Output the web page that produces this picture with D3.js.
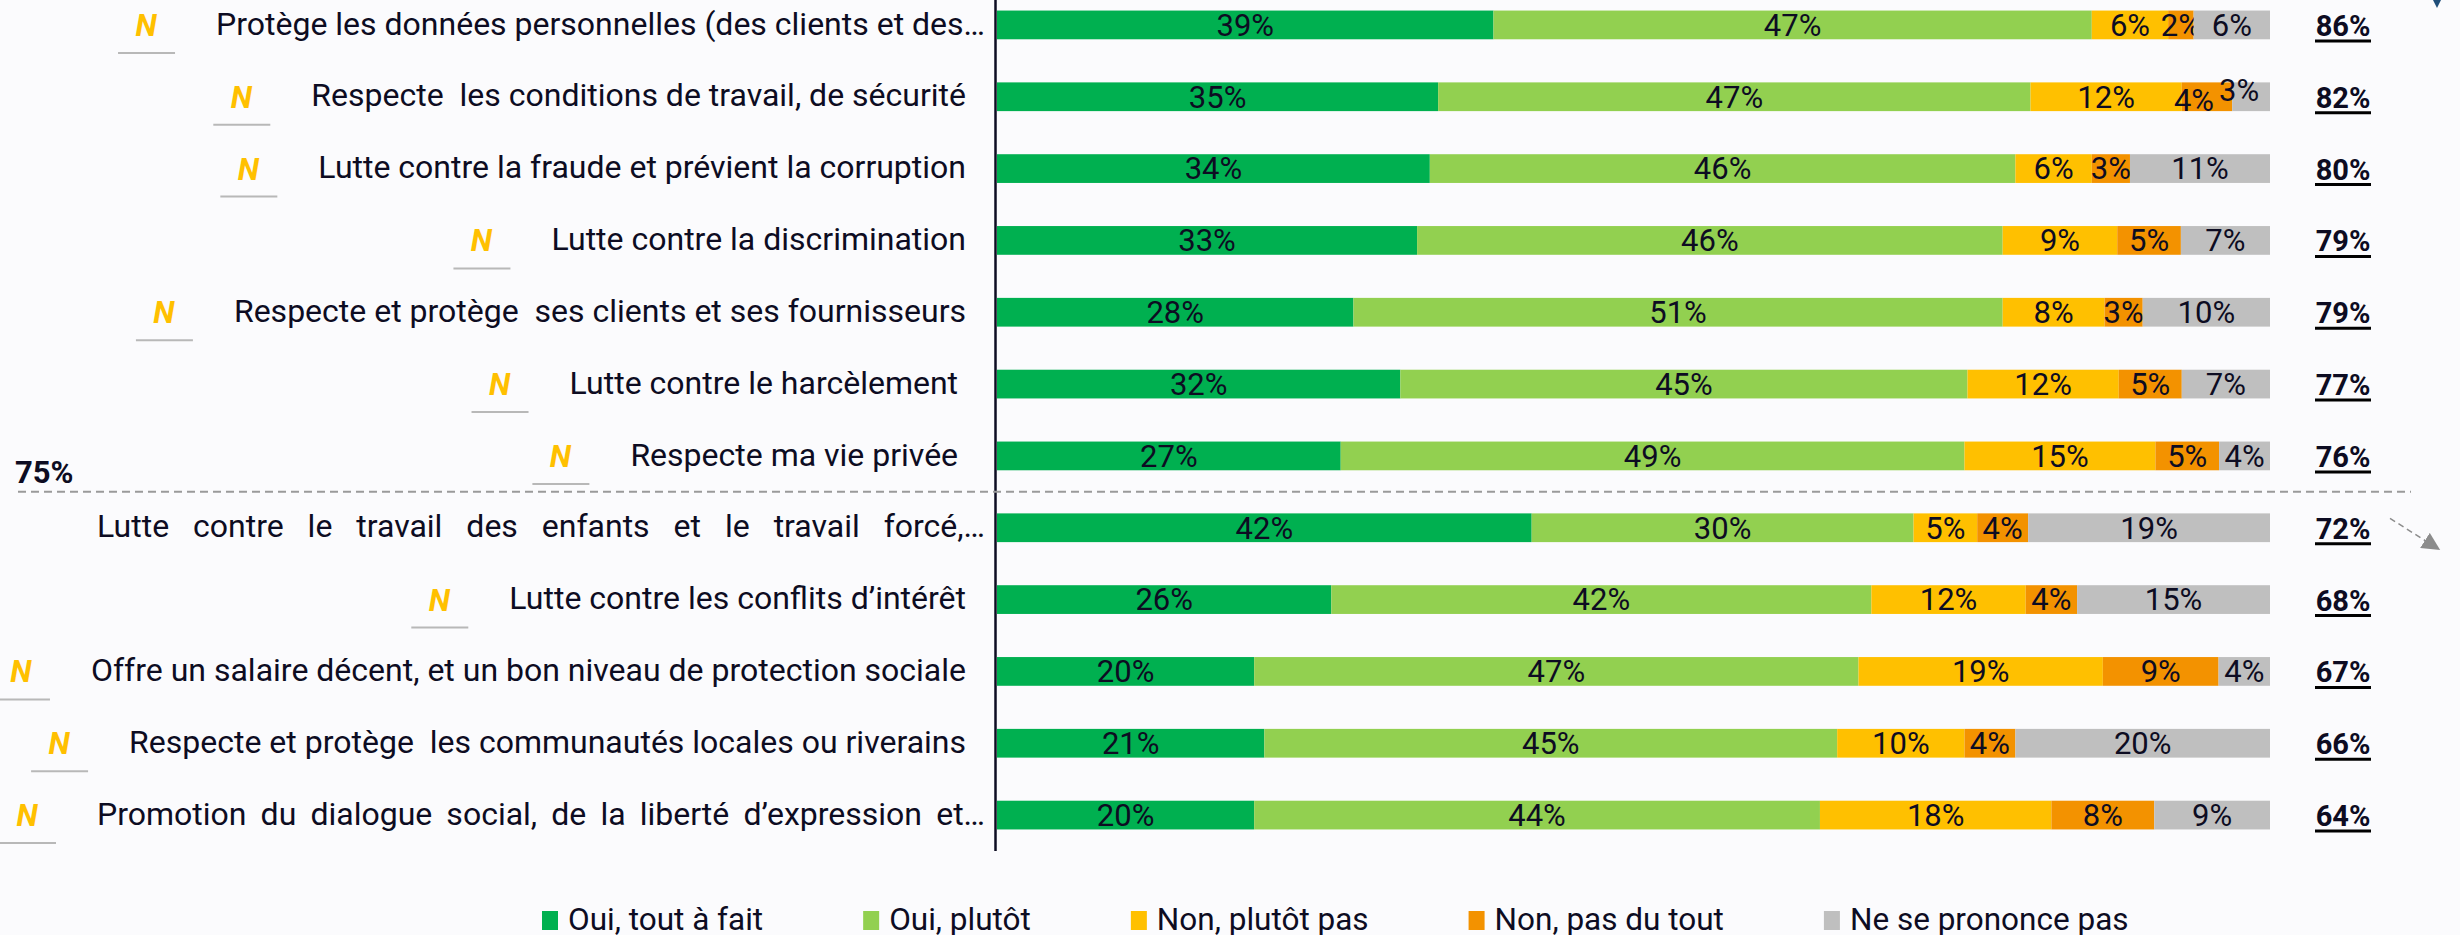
<!DOCTYPE html>
<html>
<head>
<meta charset="utf-8">
<script src="https://cdn.jsdelivr.net/npm/d3@7"></script>
<style>
  html, body { margin: 0; padding: 0; background: #fbfbfd; }
  svg { display: block; }
  text { font-family: Roboto, "Noto Sans", sans-serif; white-space: pre; }
</style>
</head>
<body>
<svg id="chart"></svg>
<script>
// Data
const categories = [
  "Protège les données personnelles (des clients et des…",
  "Respecte  les conditions de travail, de sécurité",
  "Lutte contre la fraude et prévient la corruption",
  "Lutte contre la discrimination",
  "Respecte et protège  ses clients et ses fournisseurs",
  "Lutte contre le harcèlement ",
  "Respecte ma vie privée ",
  "Lutte contre le travail des enfants et le travail forcé,…",
  "Lutte contre les conflits d’intérêt",
  "Offre un salaire décent, et un bon niveau de protection sociale",
  "Respecte et protège  les communautés locales ou riverains",
  "Promotion du dialogue social, de la liberté d’expression et…"
];
const seriesNames = [
  "Oui, tout à fait",
  "Oui, plutôt",
  "Non, plutôt pas",
  "Non, pas du tout",
  "Ne se prononce pas"
];
const ouiToutAFait = [39, 35, 34, 33, 28, 32, 27, 42, 26, 20, 21, 20];
const ouiPlutot = [47, 47, 46, 46, 51, 45, 49, 30, 42, 47, 45, 44];
const nonPlutotPas = [6, 12, 6, 9, 8, 12, 15, 5, 12, 19, 10, 18];
const nonPasDuTout = [2, 4, 3, 5, 3, 5, 5, 4, 4, 9, 4, 8];
const nsp = [6, 3, 11, 7, 10, 7, 4, 19, 15, 4, 20, 9];
const totalOui = [86, 82, 80, 79, 79, 77, 76, 72, 68, 67, 66, 64];
const isNew = [1, 1, 1, 1, 1, 1, 1, 0, 1, 1, 1, 1];
const threshold = 75;

const seriesValues = [ouiToutAFait, ouiPlutot, nonPlutotPas, nonPasDuTout, nsp];
const colors = ["#00b050", "#92d050", "#ffc000", "#f39200", "#bfbfbf"];

const rows = categories.map((c, i) => {
  const row = { category: c };
  seriesNames.forEach((s, j) => (row[s] = seriesValues[j][i]));
  return row;
});

// Layout
const WIDTH = 2460;
const HEIGHT = 935;
const TEXT = "#0d0c22";
const BAR_LEFT = 997;
const BAR_RIGHT = 2270;
const LABEL_RIGHT = 966;
const LABEL_RIGHT_TRUNC = 985;
const JUSTIFY_LEFT = 97;
const JUSTIFIED = [7, 11];
const TOTAL_X = 2343;
const FONT = 31;
const LABEL_FONT = 32;
// small hand nudges for crowded labels: "row-series" -> [dx, dy]
const NUDGE = { "1-3": [-13, 3], "1-4": [-12, -7] };

const svg = d3.select("#chart").attr("width", WIDTH).attr("height", HEIGHT);

const x = d3.scaleLinear().domain([0, 1]).range([BAR_LEFT, BAR_RIGHT]);
const y = d3
  .scaleBand()
  .domain(categories)
  .range([-11, 851])
  .paddingInner(0.6)
  .paddingOuter(0.3);
const color = d3.scaleOrdinal().domain(seriesNames).range(colors);

const stacked = d3
  .stack()
  .keys(seriesNames)
  .offset(d3.stackOffsetExpand)(rows);

// Bars
const layers = svg
  .append("g")
  .selectAll("g")
  .data(stacked)
  .join("g")
  .attr("fill", d => color(d.key));

layers
  .selectAll("rect")
  .data(d => d)
  .join("rect")
  .attr("x", d => x(d[0]))
  .attr("y", d => y(d.data.category))
  .attr("width", d => x(d[1]) - x(d[0]))
  .attr("height", y.bandwidth());

// Segment labels
const nudge = (d, k) => {
  const n = NUDGE[`${categories.indexOf(d.data.category)}-${seriesNames.indexOf(d.key)}`];
  return n ? n[k] : 0;
};
layers
  .selectAll("text")
  .data(d => d.map(v => Object.assign(v, { key: d.key })))
  .join("text")
  .attr("x", d => (x(d[0]) + x(d[1])) / 2 + nudge(d, 0))
  .attr("y", d => y(d.data.category) + y.bandwidth() / 2 + nudge(d, 1))
  .attr("dy", "0.35em")
  .attr("text-anchor", "middle")
  .attr("font-size", FONT)
  .attr("fill", TEXT)
  .text(d => d.data[d.key] + "%");

// Axis line
svg
  .append("line")
  .attr("x1", BAR_LEFT - 1.5)
  .attr("x2", BAR_LEFT - 1.5)
  .attr("y1", 0)
  .attr("y2", y.range()[1])
  .attr("stroke", TEXT)
  .attr("stroke-width", 2.5);

// Category labels
const labels = svg
  .append("g")
  .selectAll("text")
  .data(categories)
  .join("text")
  .attr("x", d => (d.endsWith("…") ? LABEL_RIGHT_TRUNC : LABEL_RIGHT))
  .attr("y", d => y(d) + y.bandwidth() / 2)
  .attr("dy", "0.3em")
  .attr("text-anchor", "end")
  .attr("font-size", LABEL_FONT)
  .attr("fill", TEXT)
  .text(d => d);

labels.each(function (d, i) {
  if (!JUSTIFIED.includes(i)) return;
  const right = d.endsWith("…") ? LABEL_RIGHT_TRUNC : LABEL_RIGHT;
  const len = this.getComputedTextLength();
  const gaps = (d.match(/ /g) || []).length;
  const extra = (right - JUSTIFY_LEFT - len) / gaps;
  d3.select(this).attr("word-spacing", extra);
});

// "N" markers for new items
labels.each(function (d, i) {
  if (!isNew[i]) return;
  const left = this.getBBox().x;
  const cx = left - 70;
  const cy = y(d) + y.bandwidth() / 2;
  svg
    .append("text")
    .attr("x", cx)
    .attr("y", cy + 11)
    .attr("text-anchor", "middle")
    .attr("font-size", 31)
    .attr("font-weight", "bold")
    .attr("font-style", "italic")
    .attr("fill", "#ffc000")
    .text("N");
  svg
    .append("line")
    .attr("x1", cx - 28)
    .attr("x2", cx + 29)
    .attr("y1", cy + 28)
    .attr("y2", cy + 28)
    .attr("stroke", "#b8b8b8")
    .attr("stroke-width", 2);
});

// Totals
const totals = svg.append("g").selectAll("g").data(categories).join("g");
totals
  .append("text")
  .attr("x", TOTAL_X)
  .attr("y", d => y(d) + y.bandwidth() / 2 + 11)
  .attr("text-anchor", "middle")
  .attr("font-size", 29)
  .attr("font-weight", "bold")
  .attr("fill", TEXT)
  .text((d, i) => totalOui[i] + "%");
totals
  .append("line")
  .attr("x1", TOTAL_X - 28)
  .attr("x2", TOTAL_X + 28)
  .attr("y1", d => y(d) + y.bandwidth() / 2 + 16)
  .attr("y2", d => y(d) + y.bandwidth() / 2 + 16)
  .attr("stroke", "#000")
  .attr("stroke-width", 3);

// Threshold line
const firstBelow = totalOui.findIndex(v => v < threshold);
const thresholdY = y(categories[firstBelow]) - (y.step() - y.bandwidth()) / 2;
svg
  .append("line")
  .attr("x1", 18)
  .attr("x2", 2411)
  .attr("y1", thresholdY)
  .attr("y2", thresholdY)
  .attr("stroke", "#9a9a9a")
  .attr("stroke-width", 2)
  .attr("stroke-dasharray", "8 5");
svg
  .append("text")
  .attr("x", 15)
  .attr("y", thresholdY - 9)
  .attr("font-size", 31)
  .attr("font-weight", "bold")
  .attr("fill", TEXT)
  .text(threshold + "%");

// Arrows
svg
  .append("defs")
  .append("marker")
  .attr("id", "head")
  .attr("viewBox", "0 0 10 10")
  .attr("refX", 2)
  .attr("refY", 5)
  .attr("markerWidth", 18)
  .attr("markerHeight", 18)
  .attr("markerUnits", "userSpaceOnUse")
  .attr("orient", "auto")
  .append("path")
  .attr("d", "M0,0 L10,5 L0,10 Z")
  .attr("fill", "#8c8c8c");
const arrowY = y(categories[firstBelow]);
svg
  .append("line")
  .attr("x1", 2390)
  .attr("y1", arrowY + 5)
  .attr("x2", 2428)
  .attr("y2", arrowY + 29)
  .attr("stroke", "#8c8c8c")
  .attr("stroke-width", 1.5)
  .attr("stroke-dasharray", "6 4")
  .attr("marker-end", "url(#head)");
svg
  .append("path")
  .attr("d", "M2433,0 L2441,0 L2437,8 Z")
  .attr("fill", "#1f4e79");

// Legend
const legend = svg.append("g").attr("transform", "translate(542, 911)");
let lx = 0;
seriesNames.forEach(name => {
  const item = legend.append("g").attr("transform", `translate(${lx}, 0)`);
  item
    .append("rect")
    .attr("width", 16)
    .attr("height", 19)
    .attr("fill", color(name));
  const t = item
    .append("text")
    .attr("x", 26)
    .attr("y", 19)
    .attr("font-size", 31.5)
    .attr("fill", TEXT)
    .text(name);
  lx += 26 + t.node().getComputedTextLength() + 100;
});
</script>
</body>
</html>
